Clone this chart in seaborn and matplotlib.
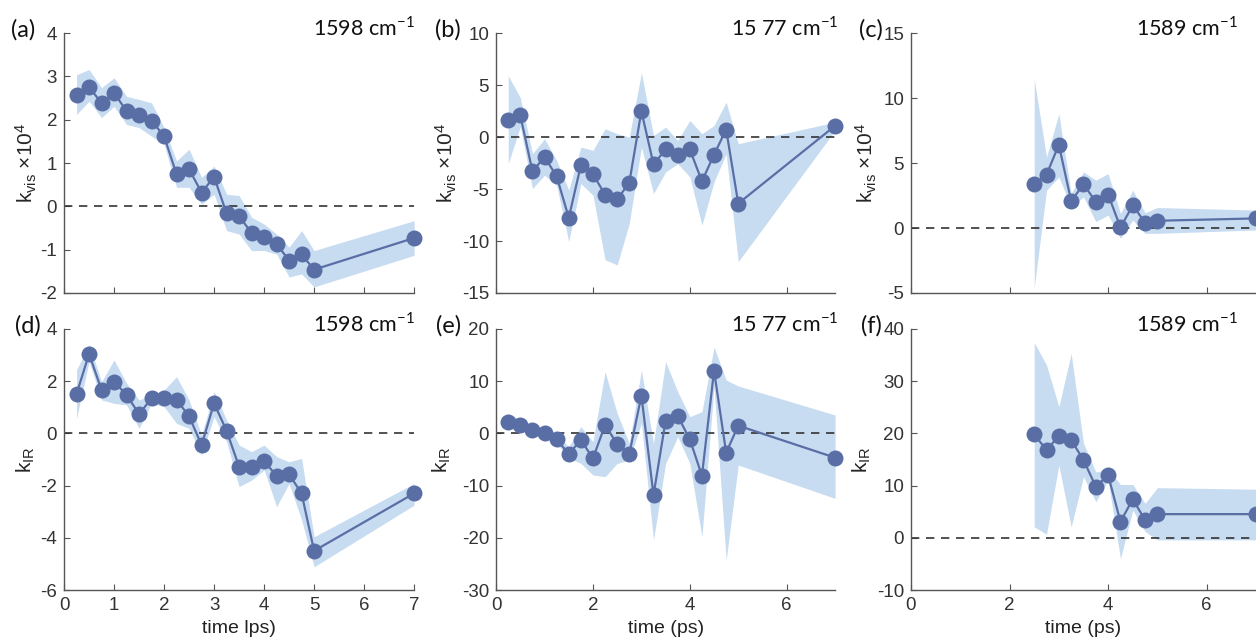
import numpy as np
import pandas as pd
import matplotlib
matplotlib.use('Agg')
import matplotlib.pyplot as plt
import seaborn as sns

# time axis (ps)
t_full = [0.25, 0.5, 0.75, 1.0, 1.25, 1.5, 1.75, 2.0, 2.25, 2.5, 2.75,
          3.0, 3.25, 3.5, 3.75, 4.0, 4.25, 4.5, 4.75, 5.0, 7.0]
t_late = [2.5, 2.75, 3.0, 3.25, 3.5, 3.75, 4.0, 4.25, 4.5, 4.75, 5.0, 7.0]

# (a) k_vis x1e4, 1598 cm-1
kvis_1598 = [2.58, 2.75, 2.39, 2.62, 2.20, 2.12, 1.98, 1.62, 0.74, 0.86, 0.32,
             0.68, -0.16, -0.23, -0.61, -0.70, -0.87, -1.25, -1.11, -1.46, -0.73]
kvis_1598_hi = [3.04, 3.16, 2.74, 2.97, 2.54, 2.47, 2.39, 1.82, 1.05, 1.32, 0.67,
                0.93, 0.28, 0.25, -0.25, -0.41, -0.64, -0.94, -0.56, -1.02, -0.33]
kvis_1598_lo = [2.12, 2.43, 2.05, 2.31, 1.89, 1.82, 1.62, 1.43, 0.44, 0.44, 0.05,
                0.28, -0.56, -0.64, -1.02, -1.02, -1.10, -1.63, -1.56, -1.86, -1.13]

# (b) k_vis x1e4, 1577 cm-1
kvis_1577 = [1.6, 2.08, -3.29, -1.92, -3.77, -7.76, -2.72, -3.58, -5.53, -6.0, -4.38,
             2.49, -2.62, -1.18, -1.76, -1.18, -4.25, -1.69, 0.73, -6.39, 1.09]
kvis_1577_hi = [5.9, 3.8, -1.6, -0.16, -2.24, -5.1, -0.96, -1.28, 0.8, 0.32, 0.0,
                6.2, 0.16, 0.96, -0.32, 1.6, 0.32, 1.12, 3.35, -0.64, 1.44]
kvis_1577_lo = [-2.56, 1.0, -4.95, -3.67, -4.63, -10.06, -4.47, -5.59, -11.8, -12.3, -8.3,
                -0.96, -5.43, -3.35, -2.56, -3.83, -8.47, -4.31, -1.6, -11.98, 0.64]

# (c) k_vis x1e4, 1589 cm-1
kvis_1589 = [3.37, 4.11, 6.41, 2.07, 3.37, 2.02, 2.58, 0.05, 1.74, 0.41, 0.56, 0.74]
kvis_1589_hi = [11.47, 5.47, 8.79, 2.66, 4.32, 3.68, 4.19, 1.12, 2.91, 1.17, 1.58, 1.38]
kvis_1589_lo = [-4.62, 2.91, 3.93, 1.63, 2.4, 0.49, 1.0, -0.79, 0.61, -0.41, -0.41, -0.15]

# (d) k_IR, 1598 cm-1
kir_1598 = [1.51, 3.04, 1.66, 1.98, 1.47, 0.74, 1.34, 1.37, 1.28, 0.66, -0.45,
            1.15, 0.10, -1.28, -1.28, -1.06, -1.63, -1.57, -2.30, -4.50, -2.30]
kir_1598_hi = [2.43, 3.41, 1.98, 2.81, 1.92, 1.28, 1.47, 1.66, 2.17, 1.28, -0.06,
               1.60, 0.51, -0.45, -0.70, -0.45, -0.89, -1.09, -0.96, -3.96, -1.92]
kir_1598_lo = [0.57, 2.75, 1.28, 1.15, 1.09, 0.19, 1.15, 1.02, 0.38, 0.19, -0.83,
               0.64, -0.32, -2.04, -1.79, -1.40, -2.81, -1.92, -3.32, -5.11, -2.75]

# (e) k_IR, 1577 cm-1
kir_1577 = [2.1, 1.53, 0.64, 0.13, -1.15, -3.96, -1.28, -4.79, 1.6, -2.04, -3.96,
            7.22, -11.81, 2.43, 3.32, -1.15, -8.11, 12.0, -3.70, 1.47, -4.66]
kir_1577_hi = [3.83, 2.55, 1.28, 0.64, -0.32, -2.55, 1.28, -1.6, 11.81, 3.83, -1.92,
               12.13, -1.92, 13.73, 7.98, 3.19, 4.15, 16.5, 10.2, 9.07, 3.51]
kir_1577_lo = [1.28, 0.64, 0.0, -0.51, -1.92, -4.79, -5.75, -7.98, -8.3, -5.75, -5.11,
               1.92, -20.43, -5.75, -0.64, -5.75, -19.8, 8.94, -24.3, -6.07, -12.45]

# (f) k_IR, 1589 cm-1
kir_1589 = [19.8, 16.8, 19.5, 18.7, 14.9, 9.8, 12.0, 3.07, 7.4, 3.38, 4.53, 4.53]
kir_1589_hi = [37.4, 33.1, 25.1, 35.3, 18.1, 12.6, 13.1, 10.2, 10.2, 6.6, 9.6, 9.3]
kir_1589_lo = [2.1, 0.7, 13.9, 2.1, 11.7, 6.9, 11.0, -4.0, 5.3, 1.2, -0.4, -0.4]

panel_tags = ['(a)', '(b)', '(c)', '(d)', '(e)', '(f)']
wavenumbers = ['1598', '15 77', '1589', '1598', '15 77', '1589']

sns.set_style('ticks')
plt.rcParams['font.family'] = ['Liberation Sans', 'DejaVu Sans']
plt.rcParams['mathtext.fontset'] = 'custom'
plt.rcParams['mathtext.rm'] = 'Liberation Sans'
plt.rcParams['mathtext.it'] = 'Liberation Sans'
plt.rcParams['axes.unicode_minus'] = False

line_col = '#5a6ea6'
band_col = '#c7dcf1'
axis_col = '#555555'

fig = plt.figure(figsize=(12.56, 6.4), dpi=100)

# axes rectangles in figure fractions (left, bottom, width, height)
col_left = [0.051, 0.395, 0.7253]
col_width = [0.2787, 0.2699, 0.2747]
row_bottom = [0.5422, 0.0781]
row_height = [0.406, 0.408]

series = [
    (t_full, kvis_1598, kvis_1598_lo, kvis_1598_hi),
    (t_full, kvis_1577, kvis_1577_lo, kvis_1577_hi),
    (t_late, kvis_1589, kvis_1589_lo, kvis_1589_hi),
    (t_full, kir_1598, kir_1598_lo, kir_1598_hi),
    (t_full, kir_1577, kir_1577_lo, kir_1577_hi),
    (t_late, kir_1589, kir_1589_lo, kir_1589_hi),
]
ylims = [(-2, 4), (-15, 10), (-5, 15), (-6, 4), (-30, 20), (-10, 40)]
ysteps = [1, 5, 5, 2, 10, 10]
ylab_x = [-0.071, -0.109, -0.093, -0.077, -0.127, -0.110]
tag_x = [11, 435, 859, 15, 436, 861]
name_right = [415, 838, 1238, 415, 838, 1238]

for i in range(6):
    r, c = divmod(i, 3)
    ax = fig.add_axes([col_left[c], row_bottom[r], col_width[c], row_height[r]])
    t, k, lo, hi = series[i]
    df = pd.DataFrame({'t': t, 'k': k})
    ax.fill_between(t, lo, hi, color=band_col, linewidth=0, zorder=1)
    ax.axhline(0, color='#333333', linestyle=(0, (5, 4)), linewidth=1.2, zorder=2)
    sns.lineplot(data=df, x='t', y='k', ax=ax, color=line_col, marker='o',
                 markersize=11.5, markeredgewidth=0, linewidth=1.6, zorder=3,
                 clip_on=False)

    ax.set_xlim(0, 7)
    ax.set_ylim(*ylims[i])
    ax.set_yticks(np.arange(ylims[i][0], ylims[i][1] + 0.1, ysteps[i]))
    if c == 0:
        ax.set_xticks(range(0, 8))
    else:
        ax.set_xticks([0, 2, 4, 6])
    if r == 0:
        ax.set_xticklabels([])
        ax.set_xlabel('')
        ax.set_ylabel(r'k$_{\mathregular{vis}}$ $\times$10$^{\mathregular{4}}$', fontsize=15)
    else:
        ax.set_xlabel('time lps)' if c == 0 else 'time (ps)', fontsize=14, color='#222222')
        ax.set_ylabel(r'k$_{\mathregular{IR}}$', fontsize=15)
    ax.yaxis.set_label_coords(ylab_x[i], 0.5)
    ax.xaxis.labelpad = 4

    sns.despine(ax=ax)
    for s in ['left', 'bottom']:
        ax.spines[s].set_color(axis_col)
        ax.spines[s].set_linewidth(1.0)
    ax.tick_params(direction='in', length=4, width=0.8, color=axis_col,
                   labelsize=13.5, labelcolor='#333333', pad=5)

    ytop = 30 if r == 0 else 326
    fig.text(tag_x[i] / 1256, 1 - ytop / 640, panel_tags[i], fontsize=17,
             family=['Lato', 'DejaVu Sans'], ha='left', va='center', color='#111111')
    fig.text(name_right[i] / 1256, 1 - (ytop - 2) / 640,
             wavenumbers[i] + r' cm$^{\mathregular{-1}}$', fontsize=15.5,
             family=['Lato', 'DejaVu Sans'], ha='right', va='center', color='#111111')

fig.savefig('out.png', dpi=100)
